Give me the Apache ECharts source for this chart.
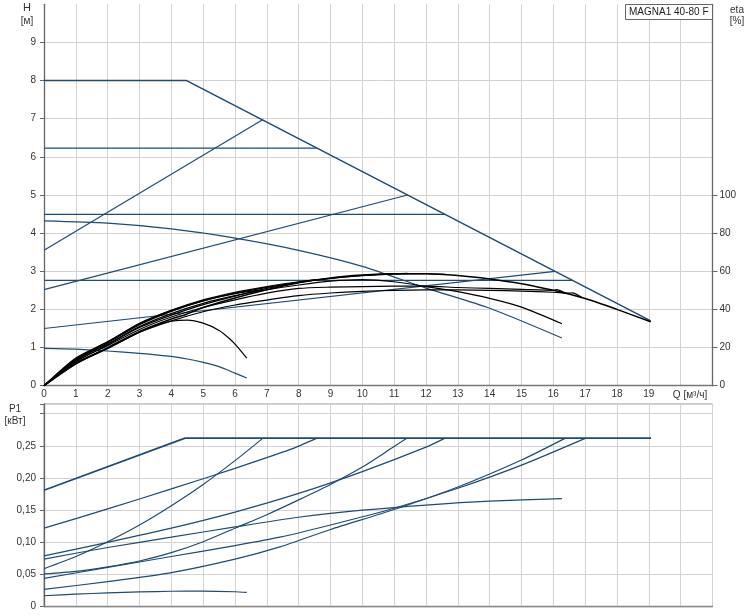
<!DOCTYPE html>
<html>
<head>
<meta charset="utf-8">
<script src="https://cdn.jsdelivr.net/npm/echarts@6/dist/echarts.min.js"></script>
<style>html,body{margin:0;padding:0;background:#fff}#c{width:750px;height:615px}</style>
</head>
<body>
<div id="c"></div>
<script>
// ---- tick labels ----
const qTicks = [0,1,2,3,4,5,6,7,8,9,10,11,12,13,14,15,16,17,18,19];
const hTicks = [0,1,2,3,4,5,6,7,8,9];
const etaTicks = [0,20,40,60,80,100];
const p1TickValues = [0,0.05,0.10,0.15,0.20,0.25];
const p1TickLabels = ['0','0,05','0,10','0,15','0,20','0,25'];

// ---- H curves [Q, H] (blue) ----
const hMax = [[0,8],[4.48,8],[19.06,1.7]];
const hConst62 = [[0,6.23],[8.58,6.23]];
const hConst45 = [[0,4.49],[12.6,4.49]];
const hConst275 = [[0,2.76],[16.61,2.76]];
const hProp1 = [[0,3.55],[6.88,6.98]];
const hProp2 = [[0,2.52],[11.42,5.0]];
const hProp3 = [[0,1.5],[16.05,3.0]];
const hCurveHigh = [[0,4.32],[2,4.26],[4,4.11],[6,3.87],[8,3.55],[10,3.13],[12,2.56],[14,2.03],[16.27,1.25]];
const hCurveLow = [[0,0.98],[1,0.96],[2,0.91],[3,0.85],[4,0.77],[4.5,0.7],[5,0.61],[5.5,0.5],[6,0.33],[6.37,0.2]];

// ---- eta curves [Q, %] (black) ----
const etaMax = [[0,0],[1,11.5],[2,20],[3,28.5],[4,35],[4.48,37.5],[5,41],[6,46],[7,50.3],[8,54],[9,56.5],[10,58],[11,58.7],[12,58.7],[13,57.8],[14,56],[15,53.5],[16,50],[17,45.7],[18,40],[19.06,33.5]];
const etaC45 = [[0,0],[1,14],[2,23],[3,32.5],[4,39.5],[5,45],[6,49],[7,52],[8,54.5],[9,56.3],[10,57.7],[11,58.5],[12,58.7],[12.6,58.4]];
const etaP2 = [[0,0],[1,13.5],[2,22.5],[3,32],[4,39],[5,44.5],[6,48.5],[7,51.6],[8,54.2],[9,56.2],[10,57.8],[11,58.6],[11.42,58.9]];
const etaP1 = [[0,0],[1,14.5],[2,23],[3,32.7],[4,39.5],[5,44.5],[6,48.3],[6.88,50.2]];
const etaC62 = [[0,0],[1,12.5],[2,21.5],[3,30.5],[4,37],[5,42.5],[6,47],[7,51],[8,54.2],[8.58,55.6]];
const etaConst = [[0,0],[1,13.5],[2,22],[3,31],[4,37.8],[5,43.2],[6,47.2],[7,50.3],[8,52.8],[9,54.8],[10,55.6],[11,54.5],[12,52],[13,49.3],[14,45.8],[15,41.2],[16.27,32.5]];
const etaP3 = [[0,0],[1,13],[2,21],[3,29.5],[4,36],[5,41],[6,45],[7,48.5],[8,51],[9,51.7],[10,52],[11,52.2],[12,52.2],[13,51.5],[14,51],[15,50.5],[16,50],[16.1,50.4],[16.4,48.4]];
const eta275 = [[0,0],[1,12],[2,19.5],[3,28],[4,34],[5,38.8],[6,42.3],[7,44.9],[8,47.2],[9,48.6],[10,49.5],[11,50],[12,50.2],[13,50.2],[14,50],[15,49.6],[16,49],[16.5,48.5],[16.6,48.7],[16.9,46.2]];
const etaMin = [[0,0],[1,11.5],[2,19.5],[3,28],[3.5,31.5],[4,33.8],[4.5,34.4],[5,32.8],[5.5,29],[5.84,24.5],[6.1,20],[6.37,14.4]];

// ---- P1 curves [Q, kW] (blue) ----
const pMax = [[0,0.181],[4.43,0.262],[19.07,0.262]];
const pC62 = [[0,0.122],[2,0.152],[4,0.183],[6,0.215],[7.72,0.244],[8.58,0.262]];
const pC45 = [[0,0.079],[2,0.1],[4,0.122],[6,0.147],[8,0.176],[10,0.21],[12,0.248],[12.6,0.262]];
const pP1 = [[0,0.059],[1,0.078],[2,0.101],[3,0.127],[4,0.157],[5,0.19],[6,0.227],[6.88,0.262]];
const pP2 = [[0,0.051],[1,0.055],[2,0.062],[3,0.071],[4,0.084],[5,0.101],[6,0.122],[7,0.143],[8,0.166],[9,0.19],[10,0.217],[11,0.249],[11.41,0.262]];
const pC275 = [[0,0.044],[2,0.061],[4,0.078],[6,0.095],[7.41,0.108],[9,0.127],[11,0.153],[13,0.184],[15,0.22],[17.02,0.262]];
const pP3 = [[0,0.027],[2,0.039],[4,0.053],[6,0.074],[7.41,0.093],[9,0.12],[11,0.151],[13,0.186],[15,0.228],[16.38,0.262]];
const pConst = [[0,0.074],[2,0.092],[4,0.108],[6,0.124],[8,0.139],[10,0.15],[12,0.158],[14,0.164],[16.27,0.168]];
const pMin = [[0,0.017],[1,0.0195],[2,0.0215],[3,0.023],[4,0.024],[5,0.0242],[6,0.0232],[6.37,0.0222]];

const BLUE = '#1f4b75';
const BLACK = '#000000';
const FONT = 'Liberation Sans, Arial, sans-serif';
const LABEL = {fontSize:10, color:'#333', fontFamily:FONT};

function ser(data, color, width, xi, yi, smooth, z) {
  return {type:'line', data:data, xAxisIndex:xi, yAxisIndex:yi, symbol:'none', showSymbol:false,
    smooth:smooth, lineStyle:{color:color, width:width}, silent:true, z:z||2, clip:true};
}

const series = [
  ser(hMax, BLUE, 1.5, 0, 0, false, 3),
  ser(hConst62, BLUE, 1.2, 0, 0, false),
  ser(hConst45, BLUE, 1.2, 0, 0, false),
  ser(hConst275, BLUE, 1.2, 0, 0, false),
  ser(hProp1, BLUE, 1.2, 0, 0, false),
  ser(hProp2, BLUE, 1.2, 0, 0, false),
  ser(hProp3, BLUE, 1.2, 0, 0, false),
  ser(hCurveHigh, BLUE, 1.2, 0, 0, 0.25),
  ser(hCurveLow, BLUE, 1.2, 0, 0, 0.25),
  ser(etaMax, BLACK, 1.5, 0, 1, 0.25, 4),
  ser(etaC45, BLACK, 1.2, 0, 1, 0.25, 4),
  ser(etaP2, BLACK, 1.2, 0, 1, 0.25, 4),
  ser(etaP1, BLACK, 1.2, 0, 1, 0.25, 4),
  ser(etaC62, BLACK, 1.2, 0, 1, 0.25, 4),
  ser(etaConst, BLACK, 1.2, 0, 1, 0.25, 4),
  ser(etaP3, BLACK, 1.2, 0, 1, 0.25, 4),
  ser(eta275, BLACK, 1.2, 0, 1, 0.25, 4),
  ser(etaMin, BLACK, 1.2, 0, 1, 0.25, 4),
  ser(pMax, BLUE, 1.7, 1, 2, false, 3),
  ser(pC62, BLUE, 1.2, 1, 2, 0.25),
  ser(pC45, BLUE, 1.2, 1, 2, 0.25),
  ser(pP1, BLUE, 1.2, 1, 2, 0.25),
  ser(pP2, BLUE, 1.2, 1, 2, 0.25),
  ser(pC275, BLUE, 1.2, 1, 2, 0.25),
  ser(pP3, BLUE, 1.2, 1, 2, 0.25),
  ser(pConst, BLUE, 1.2, 1, 2, 0.25),
  ser(pMin, BLUE, 1.2, 1, 2, 0.25)
];

const split = {show:true, lineStyle:{color:'#d2d2d2', width:1}};

const option = {
  animation:false,
  backgroundColor:'#fff',
  title:{text:'MAGNA1 40-80 F', right:37.5, top:4, padding:[3,4,3,4],
    borderColor:'#666', borderWidth:1, backgroundColor:'#fff',
    textStyle:{fontSize:10, fontWeight:'normal', color:'#222', fontFamily:FONT, lineHeight:10}},
  grid:[
    {left:44, right:37.5, top:4.3, bottom:229.3},
    {left:44, right:37.5, top:404, bottom:8.3, show:true, borderColor:'#999', borderWidth:1, backgroundColor:'transparent'}
  ],
  xAxis:[
    {type:'value', gridIndex:0, min:0, max:21, interval:1,
      axisLine:{show:true, onZero:false, lineStyle:{color:'#777', width:1.3}},
      axisTick:{show:false},
      axisLabel:Object.assign({margin:4, customValues:qTicks, formatter:function(v){return qTicks.indexOf(v)>=0?String(v):'';}}, LABEL),
      splitLine:split},
    {type:'value', gridIndex:1, min:0, max:21, interval:1,
      axisLine:{show:true, onZero:false, lineStyle:{color:'#888', width:1.3}},
      axisTick:{show:false}, axisLabel:{show:false}, splitLine:split}
  ],
  yAxis:[
    {type:'value', gridIndex:0, min:0, max:10, interval:1, position:'left',
      axisLine:{show:true, onZero:false, lineStyle:{color:'#666', width:1.3}},
      axisTick:{show:true, length:4, lineStyle:{color:'#666'}, customValues:hTicks},
      axisLabel:Object.assign({margin:8, customValues:hTicks, formatter:function(v){return hTicks.indexOf(v)>=0?String(v):'';}}, LABEL),
      splitLine:split},
    {type:'value', gridIndex:0, min:0, max:200, interval:20, position:'right',
      axisLine:{show:true, onZero:false, lineStyle:{color:'#666', width:1.3}},
      axisTick:{show:true, length:5, lineStyle:{color:'#666'}, customValues:etaTicks},
      axisLabel:Object.assign({margin:7, customValues:etaTicks, formatter:function(v){return etaTicks.indexOf(v)>=0?String(v):'';}}, LABEL),
      splitLine:{show:false}},
    {type:'value', gridIndex:1, min:0, max:0.315, interval:0.05, position:'left',
      axisLine:{show:true, onZero:false, lineStyle:{color:'#666', width:1.3}},
      axisTick:{show:true, length:4, lineStyle:{color:'#666'}},
      axisLabel:Object.assign({margin:8, formatter:function(v){
        for (let i=0;i<p1TickValues.length;i++){ if (Math.abs(v-p1TickValues[i])<1e-6) return p1TickLabels[i]; }
        return '';}}, LABEL),
      splitLine:split}
  ],
  graphic:[
    {type:'text', x:27, y:8, style:{text:'H', fill:'#333', font:'11px '+FONT, align:'center', verticalAlign:'middle'}},
    {type:'text', x:27, y:21.5, style:{text:'[м]', fill:'#333', font:'10px '+FONT, align:'center', verticalAlign:'middle'}},
    {type:'text', x:737, y:10, style:{text:'eta', fill:'#333', font:'10px '+FONT, align:'center', verticalAlign:'middle'}},
    {type:'text', x:737, y:21.5, style:{text:'[%]', fill:'#333', font:'10px '+FONT, align:'center', verticalAlign:'middle'}},
    {type:'text', x:15, y:409.5, style:{text:'P1', fill:'#333', font:'10px '+FONT, align:'center', verticalAlign:'middle'}},
    {type:'text', x:15, y:421.5, style:{text:'[кВт]', fill:'#333', font:'10px '+FONT, align:'center', verticalAlign:'middle'}},
    {type:'text', x:690, y:395, style:{text:'Q [м³/ч]', fill:'#333', font:'10px '+FONT, align:'center', verticalAlign:'middle'}}
  ],
  series:series
};

const chart = echarts.init(document.getElementById('c'), null, {renderer:'canvas'});
chart.setOption(option);
</script>
</body>
</html>
